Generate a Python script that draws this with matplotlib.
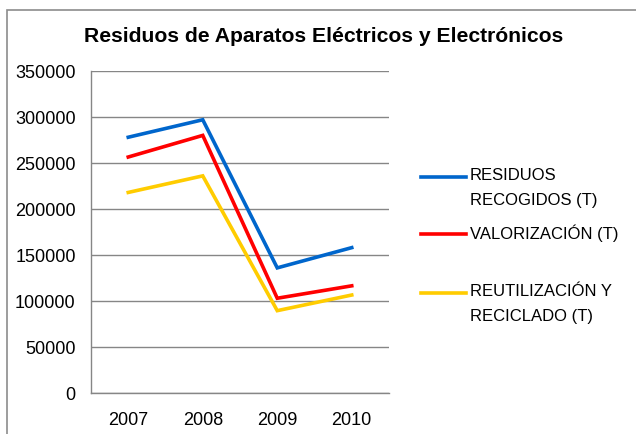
import matplotlib
matplotlib.use("Agg")
import matplotlib.pyplot as plt
from matplotlib.lines import Line2D
from matplotlib.patches import Rectangle

years = ["2007", "2008", "2009", "2010"]
recogidos = [278000, 297000, 136000, 158000]
valorizacion = [256500, 280000, 103000, 116500]
reutilizacion = [218000, 236000, 89500, 106500]
labels = ["RESIDUOS\nRECOGIDOS (T)", "VALORIZACIÓN (T)", "REUTILIZACIÓN Y\nRECICLADO (T)"]
colors = ["#0066CC", "#FF0000", "#FFCC00"]
yticks = [0, 50000, 100000, 150000, 200000, 250000, 300000, 350000]

plt.rcParams['font.family'] = ['Liberation Sans', 'DejaVu Sans']

W, H = 636, 434
fig = plt.figure(figsize=(W/100, H/100), dpi=100)
# outer chart border
fig.add_artist(Rectangle((7/W, -0.1), 1.2, 1 - 10/H + 0.1, transform=fig.transFigure,
                         fill=False, edgecolor="#8c8c8c", linewidth=1.2))

ax = fig.add_axes([91/W, 1 - 393/H, (389-91)/W, (393-71)/H])
x = [0, 1, 2, 3]
for vals, c in zip([recogidos, valorizacion, reutilizacion], colors):
    ax.plot(x, vals, color=c, linewidth=2.6, solid_joinstyle='miter')

ax.set_xlim(-0.5, 3.5)
ax.set_ylim(0, 350000)
ax.set_yticks(yticks)
ax.set_yticklabels([str(v) for v in yticks])
ax.set_xticks(x)
ax.set_xticklabels(years)
ax.grid(axis='y', color="#868686", linewidth=1)
ax.set_axisbelow(True)
for s in ['top', 'right']:
    ax.spines[s].set_visible(False)
for s in ['left', 'bottom']:
    ax.spines[s].set_color("#868686")
    ax.spines[s].set_linewidth(1)
ax.tick_params(axis='both', length=0, labelsize=13, colors='black')
ax.tick_params(axis='y', pad=11)
ax.tick_params(axis='x', pad=14)

fig.text(324/W, 1 - 36/H, "Residuos de Aparatos Eléctricos y Electrónicos",
         ha='center', va='center', fontsize=15.2, fontweight='bold')

# legend
leg_y = [177, 234, 293]
for c, lab, yy in zip(colors, labels, leg_y):
    fig.add_artist(Line2D([421/W, 466/W], [1 - yy/H, 1 - yy/H], color=c, linewidth=2.6,
                          transform=fig.transFigure))
    fig.text(470/W, 1 - (yy - 9)/H, lab, ha='left', va='top', fontsize=12,
             linespacing=1.8)

fig.savefig("out.png", dpi=100)
